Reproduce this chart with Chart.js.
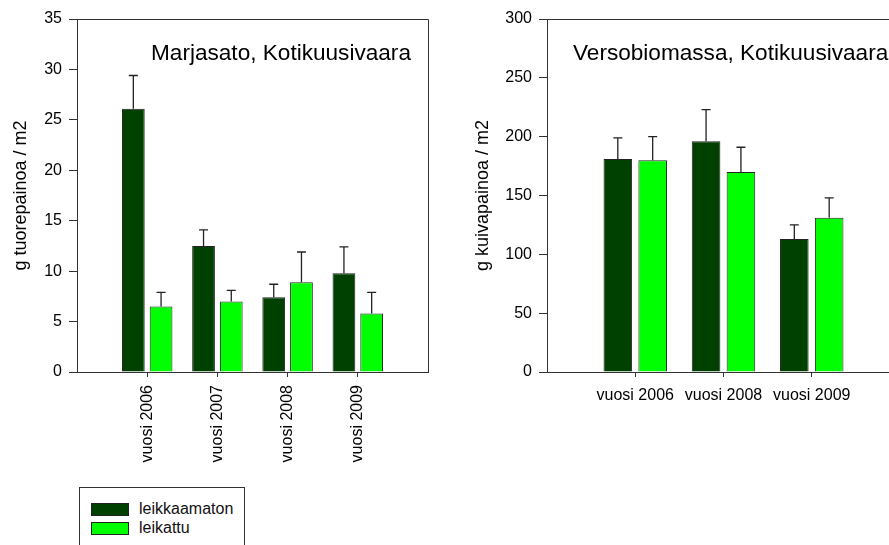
<!DOCTYPE html>
<html>
<head>
<meta charset="utf-8">
<script src="https://cdn.jsdelivr.net/npm/chart.js@4/dist/chart.umd.min.js"></script>
<style>
  html, body { margin: 0; padding: 0; background: #fff; width: 889px; height: 545px; overflow: hidden; }
  body { position: relative; font-family: "Liberation Sans", Arial, sans-serif; }
  .panel { position: absolute; top: 0; }
  #legend { position: absolute; left: 79px; top: 487px; width: 166px; height: 80px;
            border: 1px solid #333; box-sizing: border-box; }
  .item { position: absolute; left: 11px; height: 14px; display: flex; align-items: center; }
  .swatch { width: 36px; height: 11px; border: 1px solid #222; margin-right: 10px; }
  .item span { font-size: 16px; color: #111; }
</style>
</head>
<body>
<div class="panel" style="left:0px;width:440px;height:480px"><canvas id="berries"></canvas></div>
<div class="panel" style="left:470px;width:440px;height:480px"><canvas id="shoots"></canvas></div>
<div id="legend"></div>
<script>
// Series names and colours
const seriesNames = ['leikkaamaton', 'leikattu'];
const seriesColors = ['#004000', '#00FF00'];

// Berry yield (g fresh weight / m2), mean and standard error
const berryYears = ['vuosi 2006', 'vuosi 2007', 'vuosi 2008', 'vuosi 2009'];
const berryUncut = [26.1, 12.5, 7.4, 9.8];
const berryUncutSe = [3.3, 1.6, 1.3, 2.6];
const berryCut = [6.5, 7.0, 8.9, 5.8];
const berryCutSe = [1.4, 1.1, 3.0, 2.1];

// Shoot biomass (g dry weight / m2), mean and standard error
const shootYears = ['vuosi 2006', 'vuosi 2008', 'vuosi 2009'];
const shootUncut = [181, 196, 113];
const shootUncutSe = [18, 27, 12];
const shootCut = [180, 170, 131];
const shootCutSe = [20, 21, 17];

const FONT = '"Liberation Sans", Arial, sans-serif';
const INK = '#222';

// pad each category list with an empty slot at both ends
const pad = arr => [null, ...arr, null];
const padLabels = arr => ['', ...arr, ''];

// upward error bars with caps, drawn from each bar's top
const errorBars = {
  id: 'errorBars',
  afterDatasetsDraw(chart) {
    const ctx = chart.ctx;
    const yScale = chart.scales.y;
    ctx.save();
    ctx.strokeStyle = INK;
    ctx.lineWidth = 1.3;
    chart.data.datasets.forEach((ds, di) => {
      const meta = chart.getDatasetMeta(di);
      meta.data.forEach((bar, i) => {
        const v = ds.data[i];
        const se = ds.errors[i];
        if (v == null || se == null) return;
        const yTop = yScale.getPixelForValue(v + se);
        ctx.beginPath();
        ctx.moveTo(bar.x, bar.y);
        ctx.lineTo(bar.x, yTop);
        ctx.moveTo(bar.x - 4.5, yTop);
        ctx.lineTo(bar.x + 4.5, yTop);
        ctx.stroke();
      });
    });
    ctx.restore();
  }
};

// closing frame lines on the top and right of the plot area, plus the panel heading
const frameAndHeading = {
  id: 'frameAndHeading',
  afterDraw(chart, args, opts) {
    const { ctx, chartArea: a } = chart;
    ctx.save();
    ctx.strokeStyle = '#333';
    ctx.lineWidth = 1;
    ctx.beginPath();
    ctx.moveTo(a.left, a.top + 0.5);
    ctx.lineTo(a.right + 0.5, a.top + 0.5);
    ctx.lineTo(a.right + 0.5, a.bottom);
    ctx.stroke();
    ctx.fillStyle = '#000';
    ctx.font = '22.6px ' + FONT;
    ctx.textBaseline = 'middle';
    ctx.textAlign = 'left';
    ctx.fillText(opts.text, a.left + opts.dx, a.top + opts.dy);
    ctx.restore();
  }
};

function makeChart(id, cats, uncut, uncutSe, cut, cutSe, yMax, yStep, yTitle, heading, headingDx, rotate, titlePad, padRight) {
  const labels = padLabels(cats);
  const last = labels.length - 1;
  return new Chart(document.getElementById(id), {
    type: 'bar',
    data: {
      labels,
      datasets: [
        { label: seriesNames[0], data: pad(uncut), errors: pad(uncutSe),
          backgroundColor: seriesColors[0], borderColor: INK, borderWidth: 1 },
        { label: seriesNames[1], data: pad(cut), errors: pad(cutSe),
          backgroundColor: seriesColors[1], borderColor: INK, borderWidth: 1 }
      ]
    },
    options: {
      responsive: true,
      maintainAspectRatio: false,
      animation: false,
      events: [],
      categoryPercentage: 0.79,
      barPercentage: 0.82,
      layout: { padding: { top: 19, right: padRight, left: 0, bottom: 0 } },
      plugins: {
        legend: { display: false },
        tooltip: { enabled: false },
        frameAndHeading: { text: heading, dx: headingDx, dy: 35 }
      },
      scales: {
        x: {
          offset: false,
          grid: {
            offset: false,
            drawOnChartArea: false,
            tickLength: 5,
            color: c => (c.index === 0 || c.index === last) ? 'rgba(0,0,0,0)' : '#333'
          },
          border: { display: true, color: '#333', width: 1 },
          ticks: {
            autoSkip: false,
            minRotation: rotate ? 90 : 0,
            maxRotation: rotate ? 90 : 0,
            padding: rotate ? 8 : 9,
            color: '#000',
            font: { family: FONT, size: 16 }
          },
          afterFit: s => { s.height = 480 - 372; s.paddingLeft = 0; s.paddingRight = 0; }
        },
        y: {
          min: 0,
          max: yMax,
          ticks: { stepSize: yStep, padding: 7, color: '#000', font: { family: FONT, size: 16 } },
          grid: { drawOnChartArea: false, tickLength: 8, color: '#333' },
          border: { display: true, color: '#333', width: 1 },
          title: { display: true, text: yTitle, color: '#000',
                   font: { family: FONT, size: 18 }, padding: { top: titlePad, bottom: 0 } },
          afterFit: s => { s.width = 77; }
        }
      }
    },
    plugins: [errorBars, frameAndHeading]
  });
}

makeChart('berries', berryYears, berryUncut, berryUncutSe, berryCut, berryCutSe,
  35, 5, 'g tuorepainoa / m2', 'Marjasato, Kotikuusivaara', 74, true, 10, 12);
makeChart('shoots', shootYears, shootUncut, shootUncutSe, shootCut, shootCutSe,
  300, 50, 'g kuivapainoa / m2', 'Versobiomassa, Kotikuusivaara', 26, false, 2, 10);

// legend box below the left panel
const legend = document.getElementById('legend');
seriesNames.forEach((name, i) => {
  const item = document.createElement('div');
  item.className = 'item';
  item.style.top = (14 + i * 19) + 'px';
  const sw = document.createElement('div');
  sw.className = 'swatch';
  sw.style.background = seriesColors[i];
  const txt = document.createElement('span');
  txt.textContent = name;
  item.appendChild(sw);
  item.appendChild(txt);
  legend.appendChild(item);
});
</script>
</body>
</html>
